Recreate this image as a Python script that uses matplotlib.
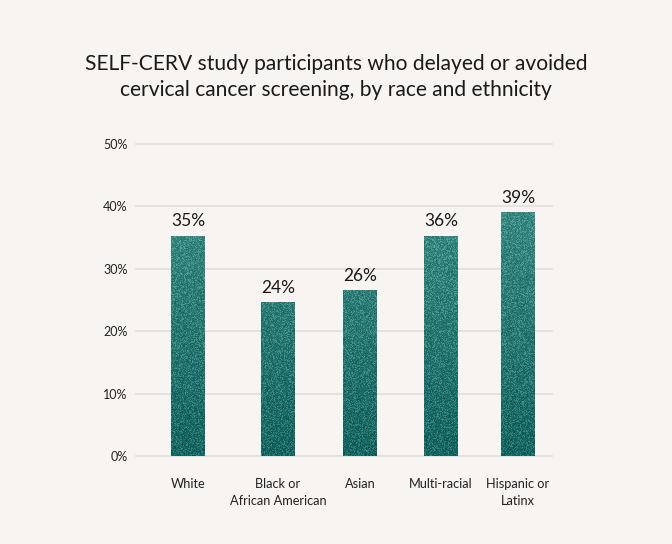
import numpy as np
import matplotlib
matplotlib.use("Agg")
import matplotlib.pyplot as plt

# ---- data ----
categories = ["White", "Black or\nAfrican American", "Asian", "Multi-racial", "Hispanic or\nLatinx"]
values = [35.3, 24.7, 26.6, 35.3, 39.1]
value_labels = ["35%", "24%", "26%", "36%", "39%"]
yticks = [0, 10, 20, 30, 40, 50]
ytick_labels = ["0%", "10%", "20%", "30%", "40%", "50%"]
title = "SELF-CERV study participants who delayed or avoided\ncervical cancer screening, by race and ethnicity"

# ---- layout ----
x_pos = [188, 278, 360, 441, 518]
bar_w = 34
BG = "#f7f4f1"
W, H = 672, 544

plt.rcParams['font.family'] = ['Lato', 'DejaVu Sans']
fig = plt.figure(figsize=(W / 100, H / 100), dpi=100, facecolor=BG)
ax = fig.add_axes([136 / W, (H - 456) / H, (552 - 136) / W, (456 - 144) / H])
ax.set_facecolor(BG)
ax.set_xlim(136, 552)
ax.set_ylim(0, 50)

for t in yticks:
    ax.axhline(t, color="#e2dedb", lw=1.2, zorder=0, clip_on=False)

rng = np.random.default_rng(3)
top_c = np.array([0x36, 0x86, 0x7f]) / 255
bot_c = np.array([0x0f, 0x5d, 0x58]) / 255
bars = ax.bar(x_pos, values, width=bar_w, color="none", edgecolor="none", zorder=2)
for b, v in zip(bars, values):
    hp = max(int(v * 6.24), 2)
    wp = bar_w
    frac = v / 40.0
    t = np.linspace(0, 1, hp)[:, None, None]  # 0 top .. 1 bottom
    mix = np.clip(1 - frac + t * frac, 0, 1) * 0.9
    base = top_c * (1 - mix) + bot_c * mix
    base = np.broadcast_to(base, (hp, wp, 3)).copy()
    noise = rng.random((hp, wp, 1))
    light = (noise > 0.55) * rng.random((hp, wp, 1)) * 0.16
    dark = (noise < 0.3) * rng.random((hp, wp, 1)) * 0.07
    img = np.clip(base + light - dark, 0, 1)
    im = ax.imshow(img, extent=[b.get_x(), b.get_x() + b.get_width(), 0, v],
                   aspect="auto", zorder=2, interpolation="nearest")
    im.set_clip_path(b)

for x, v, lab in zip(x_pos, values, value_labels):
    ax.annotate(lab, (x, v), xytext=(0, 4.5), textcoords="offset points",
                ha="center", va="bottom", fontsize=12.5, color="#1a1a1a")

ax.set_yticks(yticks)
ax.set_yticklabels(ytick_labels, fontsize=9, color="#222222")
ax.set_xticks(x_pos)
ax.set_xticklabels(categories, fontsize=9.2, color="#222222", linespacing=1.5)
ax.tick_params(axis="both", length=0)
ax.tick_params(axis="y", pad=6)
ax.tick_params(axis="x", pad=16)
for s in ax.spines.values():
    s.set_visible(False)

fig.text(0.5, (H - 77) / H, title, ha="center", va="center", fontsize=15.1,
         color="#1a1a1a", linespacing=1.4)

fig.savefig("out.png", dpi=100, facecolor=BG)
